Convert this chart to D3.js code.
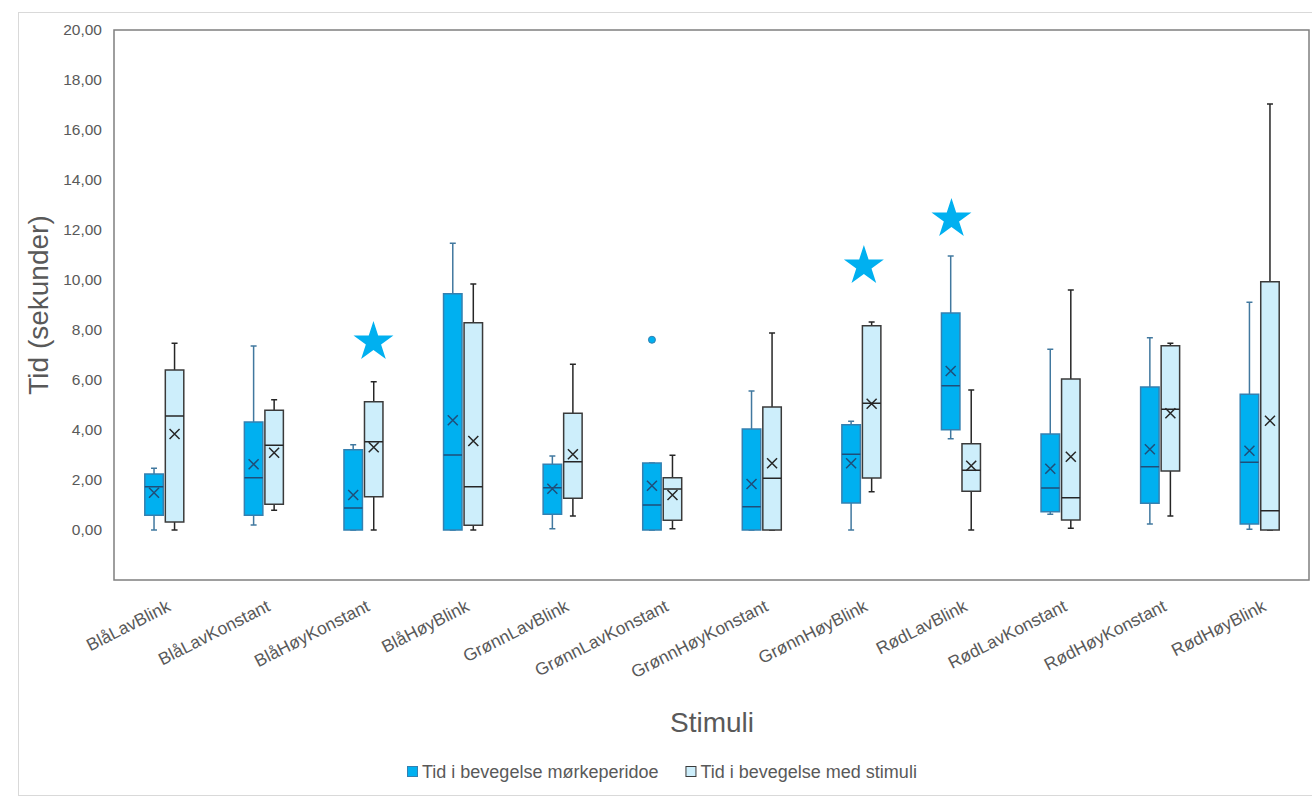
<!DOCTYPE html>
<html>
<head>
<meta charset="utf-8">
<script src="https://cdn.jsdelivr.net/npm/d3@7"></script>
<style>
    body { margin: 0; background: #fff; }
    text { font-family: "Liberation Sans", Arial, sans-serif; }
</style>
</head>
<body>
<svg id="chart" width="1312" height="797"></svg>
<script>

// Categories on x-axis
const categories = ["BlåLavBlink", "BlåLavKonstant", "BlåHøyKonstant", "BlåHøyBlink",
    "GrønnLavBlink", "GrønnLavKonstant", "GrønnHøyKonstant", "GrønnHøyBlink",
    "RødLavBlink", "RødLavKonstant", "RødHøyKonstant", "RødHøyBlink"]

const seriesNames = ["Tid i bevegelse mørkeperidoe", "Tid i bevegelse med stimuli"]

// Series 1: Tid i bevegelse mørkeperidoe (min, q1, median, q3, max, mean)
const darkMin    = [0.00, 0.20, 0.00, 0.00, 0.05, 0.00, 0.00, 0.00, 3.65, 0.63, 0.24, 0.03]
const darkQ1     = [0.59, 0.59, 0.00, 0.00, 0.63, 0.00, 0.00, 1.08, 4.01, 0.73, 1.07, 0.24]
const darkMedian = [1.73, 2.09, 0.88, 3.00, 1.69, 1.00, 0.93, 3.03, 5.77, 1.68, 2.53, 2.71]
const darkQ3     = [2.24, 4.32, 3.21, 9.45, 2.63, 2.68, 4.04, 4.21, 8.68, 3.84, 5.72, 5.43]
const darkMax    = [2.47, 7.36, 3.41, 11.47, 2.96, 2.68, 5.56, 4.35, 10.96, 7.23, 7.69, 9.11]
const darkMean   = [1.49, 2.63, 1.40, 4.39, 1.65, 1.77, 1.84, 2.67, 6.36, 2.45, 3.23, 3.17]

// Series 2: Tid i bevegelse med stimuli
const lightMin    = [0.00, 0.79, 0.00, 0.00, 0.56, 0.05, 0.00, 1.53, 0.00, 0.07, 0.56, 0.00]
const lightQ1     = [0.32, 1.03, 1.33, 0.19, 1.27, 0.39, 0.00, 2.08, 1.55, 0.40, 2.36, 0.00]
const lightMedian = [4.56, 3.39, 3.53, 1.73, 2.73, 1.64, 2.07, 5.07, 2.39, 1.29, 4.83, 0.77]
const lightQ3     = [6.40, 4.79, 5.13, 8.29, 4.67, 2.09, 4.92, 8.17, 3.45, 6.04, 7.37, 9.93]
const lightMax    = [7.47, 5.21, 5.93, 9.84, 6.63, 2.99, 7.88, 8.32, 5.60, 9.60, 7.47, 17.04]
const lightMean   = [3.84, 3.09, 3.31, 3.56, 3.03, 1.40, 2.67, 5.05, 2.57, 2.93, 4.67, 4.37]

// Outliers [category, series index, value]
const outliers = [["GrønnLavKonstant", 0, 7.61]]

// Significance stars [category, value]
const stars = [["BlåHøyKonstant", 7.52], ["GrønnHøyBlink", 10.56], ["RødLavBlink", 12.44]]

const yTicks = [0, 2, 4, 6, 8, 10, 12, 14, 16, 18, 20]

// ---------------------------------------------------------------

const fills   = ["#00b0f0", "#cdeefb"]
const strokes = ["#3580b0", "#3a3a3a"]
const inner   = ["#1f4e79", "#262626"]
const whisk   = ["#41789f", "#262626"]
// horizontal shift of each star inside its category band (px)
const starShift = [10.5, 3, -9]

const svg = d3.select("#chart")

// outer light border of the chart area
svg.append("rect")
    .attr("x", 18.5).attr("y", 12.5)
    .attr("width", 1400).attr("height", 783)
    .attr("fill", "none")
    .attr("stroke", "#d9d9d9")

const plot = {left: 114, right: 1309, top: 30, bottom: 580}

let x0 = d3.scaleBand()
    .domain(categories)
    .range([plot.left, plot.right])
    .padding(0)

let x1 = d3.scaleBand()
    .domain([0, 1])
    .range([x0.bandwidth()/2 - 19, x0.bandwidth()/2 + 20])
    .paddingInner(0.1)

let y = d3.scaleLinear()
    .domain([-2, 20])
    .range([plot.bottom, plot.top])

// y axis labels (no line, no ticks)
let yAxis = svg.append("g")
    .attr("transform", `translate(${plot.left - 9},0)`)
    .call(d3.axisLeft(y).tickValues(yTicks).tickSize(0).tickFormat(d => d3.format(".2f")(d).replace(".", ",")))
yAxis.select(".domain").remove()
yAxis.selectAll("text")
    .attr("fill", "#595959")
    .style("font-size", "15.5px")
    .style("font-family", "'Liberation Sans', Arial, sans-serif")

// x axis labels, rotated
let xAxis = svg.append("g")
    .attr("transform", `translate(0,${plot.bottom})`)
    .call(d3.axisBottom(x0).tickSize(0).tickPadding(0))
xAxis.select(".domain").remove()
xAxis.selectAll("text")
    .attr("fill", "#595959")
    .style("font-size", "17.5px")
    .style("font-family", "'Liberation Sans', Arial, sans-serif")
    .attr("text-anchor", "end")
    .attr("dy", null)
    .attr("y", 0)
    .attr("transform", "translate(8,30) rotate(-27)")

// build per-series rows from the arrays
const seriesData = [
    categories.map((c, i) => ({cat: c, s: 0, min: darkMin[i], q1: darkQ1[i], med: darkMedian[i], q3: darkQ3[i], max: darkMax[i], mean: darkMean[i]})),
    categories.map((c, i) => ({cat: c, s: 1, min: lightMin[i], q1: lightQ1[i], med: lightMedian[i], q3: lightQ3[i], max: lightMax[i], mean: lightMean[i]}))
]

const boxes = svg.append("g")
seriesData.forEach(rows => {
    let g = boxes.selectAll(null)
        .data(rows)
        .enter()
        .append("g")
        .attr("transform", d => `translate(${x0(d.cat) + x1(d.s)},0)`)

    let bw = x1.bandwidth()
    let cap = 3

    // whiskers + caps
    let wl = [["max", "q3"], ["q1", "min"]]
    wl.forEach(([a, b]) => {
        g.append("line")
            .attr("x1", bw/2).attr("x2", bw/2)
            .attr("y1", d => y(d[a])).attr("y2", d => y(d[b]))
            .attr("stroke", d => whisk[d.s])
            .attr("stroke-width", 1.5)
    })
    ;["max", "min"].forEach(k => {
        g.append("line")
            .attr("x1", bw/2 - cap).attr("x2", bw/2 + cap)
            .attr("y1", d => y(d[k])).attr("y2", d => y(d[k]))
            .attr("stroke", d => whisk[d.s])
            .attr("stroke-width", 1.5)
    })

    // box
    g.append("rect")
        .attr("x", 0).attr("width", bw)
        .attr("y", d => y(d.q3))
        .attr("height", d => Math.max(0, y(d.q1) - y(d.q3)))
        .attr("fill", d => fills[d.s])
        .attr("stroke", d => strokes[d.s])
        .attr("stroke-width", 1.5)

    // median
    g.append("line")
        .attr("x1", 0).attr("x2", bw)
        .attr("y1", d => y(d.med)).attr("y2", d => y(d.med))
        .attr("stroke", d => inner[d.s])
        .attr("stroke-width", 1.5)

    // mean marker (x)
    g.append("path")
        .attr("transform", d => `translate(${bw/2},${y(d.mean)})`)
        .attr("d", "M-5,-5L5,5M-5,5L5,-5")
        .attr("stroke", d => inner[d.s])
        .attr("stroke-width", 1.5)
        .attr("fill", "none")
})

// outliers
svg.append("g").selectAll("circle")
    .data(outliers)
    .enter()
    .append("circle")
    .attr("cx", d => x0(d[0]) + x1(d[1]) + x1.bandwidth()/2)
    .attr("cy", d => y(d[2]))
    .attr("r", 3.5)
    .attr("fill", d => fills[d[1]])
    .attr("stroke", d => strokes[d[1]])
    .attr("stroke-width", 1)

// stars
svg.append("g").selectAll("path")
    .data(stars)
    .enter()
    .append("path")
    .attr("d", d3.symbol().type(d3.symbolStar).size(495))
    .attr("transform", (d, i) => `translate(${x0(d[0]) + x0.bandwidth()/2 + starShift[i]},${y(d[1])})`)
    .attr("fill", "#00b0f0")

// plot frame
svg.append("rect")
    .attr("x", plot.left).attr("y", plot.top)
    .attr("width", plot.right - plot.left)
    .attr("height", plot.bottom - plot.top)
    .attr("fill", "none")
    .attr("stroke", "#7f7f7f")
    .attr("stroke-width", 1.5)

// axis titles
svg.append("text")
    .attr("transform", "translate(48,305) rotate(-90)")
    .attr("text-anchor", "middle")
    .attr("fill", "#595959")
    .style("font-size", "28px")
    .text("Tid (sekunder)")

svg.append("text")
    .attr("x", 712).attr("y", 732)
    .attr("text-anchor", "middle")
    .attr("fill", "#595959")
    .style("font-size", "28px")
    .text("Stimuli")

// legend
const legend = svg.append("g").attr("transform", "translate(407,778)")
let lx = 0
seriesNames.forEach((name, i) => {
    legend.append("rect")
        .attr("x", lx + 0.5).attr("y", -11.5)
        .attr("width", 10).attr("height", 10)
        .attr("fill", fills[i])
        .attr("stroke", strokes[i])
    let t = legend.append("text")
        .attr("x", lx + 15).attr("y", 0)
        .attr("fill", "#595959")
        .style("font-size", "18px")
        .text(name)
    lx += 15 + t.node().getComputedTextLength() + 27
})

</script>
</body>
</html>
